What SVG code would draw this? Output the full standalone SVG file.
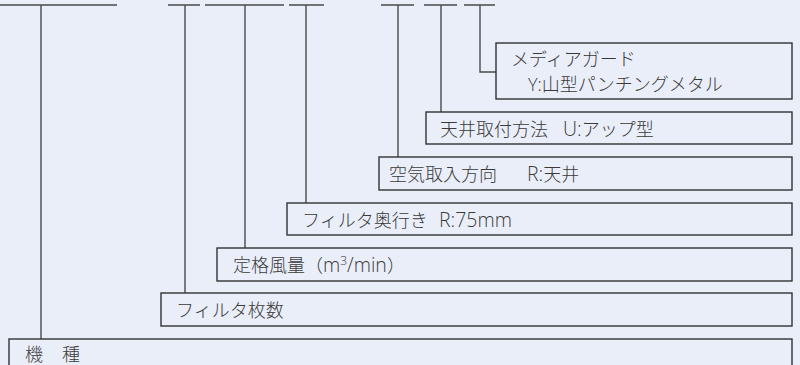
<svg xmlns="http://www.w3.org/2000/svg" width="800" height="365" viewBox="0 0 800 365">
<style>
.bg{fill:#eaeef9}
.box{fill:#eaeef9;stroke:#333;stroke-width:1.4}
.ln{fill:none;stroke:#4a4a4a;stroke-width:1.4}
.t{font-family:"Noto Sans CJK JP","Noto Sans",sans-serif;font-size:18px;fill:#3a3a3a;font-weight:300}
.l{font-family:"Open Sans","Noto Sans",sans-serif;font-size:19.5px;font-weight:300}
.s{font-size:18px}
.sup{font-size:12px}
</style>
<rect class="bg" x="0" y="0" width="800" height="365"/>
<g id="connectors">
<path class="ln" d="M0 5H117M41 5V339"/>
<path class="ln" d="M168 5H200M185 5V293"/>
<path class="ln" d="M205 5H284M245 5V248"/>
<path class="ln" d="M289 5H324M306 5V203"/>
<path class="ln" d="M381 5H414M398 5V157"/>
<path class="ln" d="M424 5H457M441 5V112"/>
<path class="ln" d="M464 5H495M480 5V72H496"/>
</g>
<g id="node-media">
<rect class="box" x="496" y="43" width="296" height="56"/>
<text class="t" x="511" y="66">メディアガード</text>
<text class="t" x="528" y="91"><tspan class="l s">Y:</tspan>山型パンチングメタル</text>
</g>
<g id="node-ceiling">
<rect class="box" x="426" y="112" width="366" height="32"/>
<text class="t" x="440" y="136">天井取付方法<tspan class="l" x="563">U:</tspan>アップ型</text>
</g>
<g id="node-air">
<rect class="box" x="379" y="157" width="413" height="33"/>
<text class="t" x="389" y="181">空気取入方向<tspan class="l" x="527">R:</tspan>天井</text>
</g>
<g id="node-depth">
<rect class="box" x="287" y="203" width="505" height="32"/>
<text class="t" x="302" y="227">フィルタ奥行き<tspan class="l" x="439">R:75mm</tspan></text>
</g>
<g id="node-airflow">
<rect class="box" x="217" y="248" width="575" height="33"/>
<text class="t" x="233" y="272">定格風量（<tspan class="l">m</tspan><tspan class="l sup" dy="-7">3</tspan><tspan class="l" dy="7">/min</tspan>）</text>
</g>
<g id="node-count">
<rect class="box" x="161" y="293" width="631" height="33"/>
<text class="t" x="176" y="317">フィルタ枚数</text>
</g>
<g id="node-model">
<rect class="box" x="9" y="339" width="783" height="40"/>
<text class="t" x="25" y="361">機<tspan x="62">種</tspan></text>
</g>
</svg>
